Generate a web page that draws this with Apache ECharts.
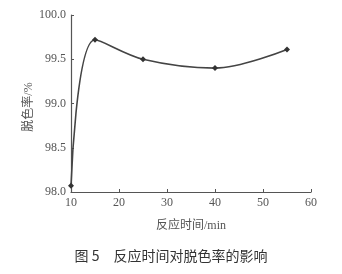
<!DOCTYPE html>
<html><head><meta charset="utf-8">
<script src="https://cdn.jsdelivr.net/npm/echarts@6/dist/echarts.min.js"></script>
<style>html,body{margin:0;padding:0;background:#fff}#c{width:342px;height:274px}</style>
</head><body><div id="c"></div>
<script>
const times = [10, 15, 25, 40, 55];
const rates = [98.07, 99.72, 99.5, 99.4, 99.61];
const xTicks = [10, 20, 30, 40, 50, 60];
const yTicks = [98.0, 98.5, 99.0, 99.5, 100.0];
const xName = '反应时间/min';
const yName = '脱色率/%';
const caption = '图 5　反应时间对脱色率的影响';

const chart = echarts.init(document.getElementById('c'));
const serif = '"Liberation Serif", "DejaVu Serif", "Noto Sans CJK SC", serif';
chart.setOption({
  animation: false,
  backgroundColor: '#fff',
  grid: {left: 71, right: 31, top: 15, bottom: 82},
  graphic: [{
    type: 'text', left: 'center', top: 249,
    style: {text: caption, font: '14px "Noto Sans CJK SC", serif', fill: '#333'}
  }, {
    type: 'text', x: 29, y: 107, rotation: Math.PI / 2,
    style: {text: yName, font: '12px "Liberation Serif", "Noto Sans CJK SC", serif',
      fill: '#555', align: 'center', verticalAlign: 'middle'}
  }],
  xAxis: {
    type: 'value', min: xTicks[0], max: xTicks[xTicks.length - 1], interval: 10,
    name: xName, nameLocation: 'middle', nameGap: 28,
    nameTextStyle: {color: '#555', fontSize: 12, fontFamily: serif},
    axisLine: {lineStyle: {color: '#555', width: 1.2}},
    axisTick: {inside: true, length: 3, lineStyle: {color: '#555'}},
    axisLabel: {color: '#555', fontSize: 12, fontFamily: serif, margin: 5},
    splitLine: {show: false}
  },
  yAxis: {
    type: 'value', min: yTicks[0], max: yTicks[yTicks.length - 1], interval: 0.5,
    axisLine: {show: true, lineStyle: {color: '#555', width: 1.2}},
    axisTick: {show: true, inside: true, length: 3, lineStyle: {color: '#555'}},
    axisLabel: {color: '#555', fontSize: 12, fontFamily: serif, margin: 5,
      formatter: v => v.toFixed(1)},
    splitLine: {show: false}
  },
  series: [{
    type: 'line', smooth: 0.35,
    data: times.map((t, i) => [t, rates[i]]),
    symbol: 'diamond', symbolSize: 6,
    itemStyle: {color: '#333'},
    lineStyle: {color: '#444', width: 1.6}
  }]
});
</script></body></html>
